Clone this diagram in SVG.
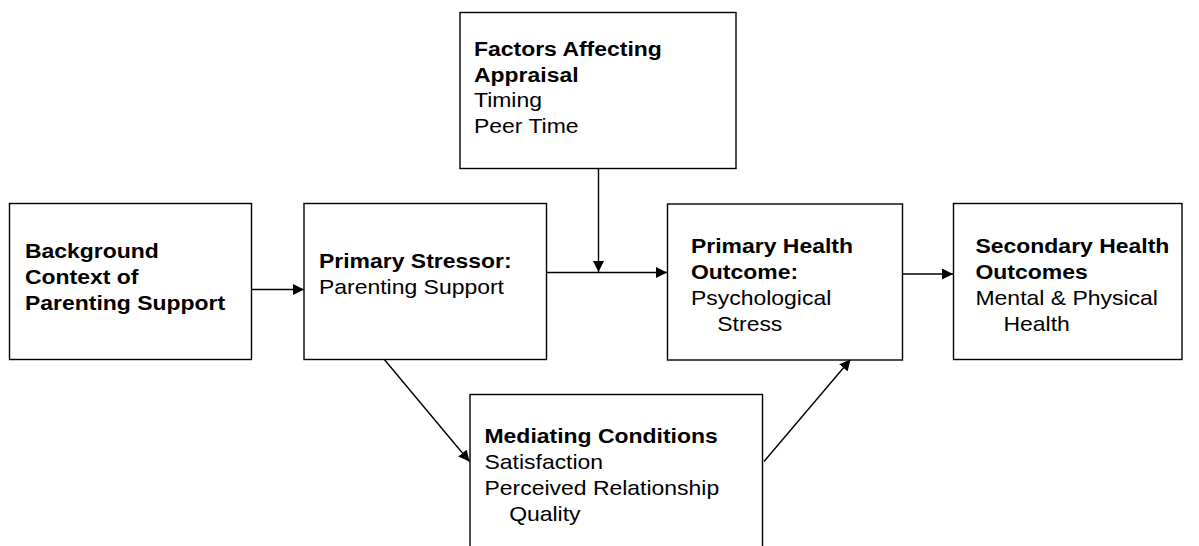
<svg xmlns="http://www.w3.org/2000/svg" width="1199" height="546" viewBox="0 0 1199 546">
<style>
.box{fill:#fff;stroke:#000;stroke-width:1.4}
.con{fill:none;stroke:#000;stroke-width:1.4}
text{font-family:"Liberation Sans",Arial,sans-serif;font-size:20.5px;fill:#000}
.b{font-weight:bold}
</style>
<defs>
<marker id="ah" markerUnits="userSpaceOnUse" markerWidth="12" markerHeight="11" refX="11" refY="5.5" orient="auto">
<path d="M0,0 L11,5.5 L0,11 Z" fill="#000"/>
</marker>
</defs>
<g id="connectors">
<line class="con" x1="252" y1="289.5" x2="304" y2="289.5" marker-end="url(#ah)"/>
<line class="con" x1="547" y1="272.5" x2="667" y2="272.5" marker-end="url(#ah)"/>
<line class="con" x1="598.5" y1="168.5" x2="598.5" y2="272" marker-end="url(#ah)"/>
<line class="con" x1="902" y1="274" x2="953" y2="274" marker-end="url(#ah)"/>
<line class="con" x1="383.5" y1="358.5" x2="469.5" y2="461.5" marker-end="url(#ah)"/>
<line class="con" x1="764" y1="461.5" x2="850.5" y2="359.5" marker-end="url(#ah)"/>
</g>
<g id="background">
<rect class="box" x="9.5" y="203.5" width="242" height="156"/>
<text transform="translate(25,258) scale(1.12,1)" class="b"><tspan x="0" y="0">Background</tspan><tspan x="0" y="26">Context of</tspan><tspan x="0" y="52">Parenting Support</tspan></text>
</g>
<g id="stressor">
<rect class="box" x="304" y="203.5" width="242.5" height="156"/>
<text transform="translate(319,268) scale(1.12,1)"><tspan class="b" x="0" y="0">Primary Stressor:</tspan><tspan x="0" y="26">Parenting Support</tspan></text>
</g>
<g id="appraisal">
<rect class="box" x="460" y="12.5" width="276" height="156"/>
<text transform="translate(474,56) scale(1.12,1)"><tspan class="b" x="0" y="0">Factors Affecting</tspan><tspan class="b" x="0" y="25.6">Appraisal</tspan><tspan x="0" y="51.2">Timing</tspan><tspan x="0" y="76.8">Peer Time</tspan></text>
</g>
<g id="primary-outcome">
<rect class="box" x="667.5" y="204" width="235" height="156"/>
<text transform="translate(691,253.3) scale(1.12,1)"><tspan class="b" x="0" y="0">Primary Health</tspan><tspan class="b" x="0" y="25.8">Outcome:</tspan><tspan x="0" y="51.6">Psychological</tspan><tspan x="23.5" y="77.4">Stress</tspan></text>
</g>
<g id="secondary-outcome">
<rect class="box" x="953.5" y="203.5" width="228.5" height="156"/>
<text transform="translate(975.5,253.3) scale(1.12,1)"><tspan class="b" x="0" y="0">Secondary Health</tspan><tspan class="b" x="0" y="25.8">Outcomes</tspan><tspan x="0" y="51.6">Mental &amp; Physical</tspan><tspan x="25" y="77.4">Health</tspan></text>
</g>
<g id="mediating">
<rect class="box" x="470" y="394.5" width="292.5" height="160"/>
<text transform="translate(484.5,443.3) scale(1.12,1)"><tspan class="b" x="0" y="0">Mediating Conditions</tspan><tspan x="0" y="25.8">Satisfaction</tspan><tspan x="0" y="51.6">Perceived Relationship</tspan><tspan x="22" y="77.4">Quality</tspan></text>
</g>
</svg>
